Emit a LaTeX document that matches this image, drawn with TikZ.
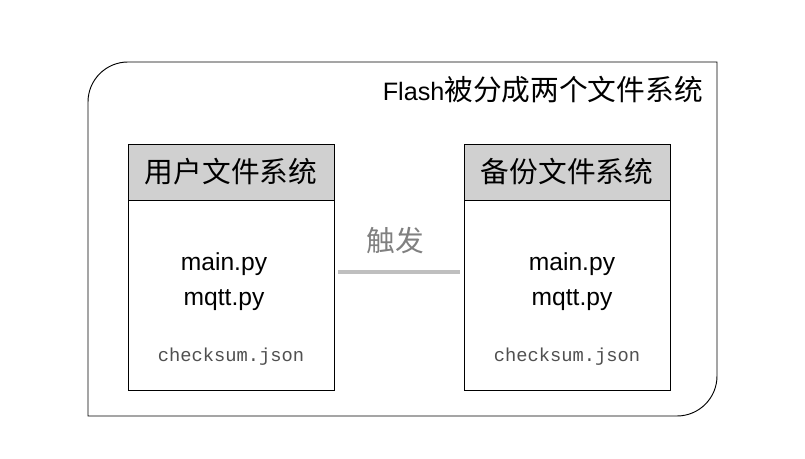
\documentclass[tikz,border=0pt]{standalone}
\usepackage{fontspec}
\setmainfont{Liberation Sans}
\setmonofont{Liberation Mono}
\newfontfamily\cjk{Noto Sans CJK SC}
\usetikzlibrary{positioning}
\definecolor{headgray}{HTML}{D0D0D0}
\definecolor{linegray}{HTML}{BFBFBF}
\definecolor{labelgray}{HTML}{808080}
\definecolor{sumgray}{HTML}{505050}

\begin{document}
\begin{tikzpicture}[x=0.03cm, y=0.03cm]
    \tikzset{
        fsbox/.style={draw, line width=0.8pt, minimum width=6.18cm, inner sep=0pt},
        fshead/.style={fsbox, fill=headgray, minimum height=1.68cm, font=\cjk\fontsize{24.5}{24.5}\selectfont},
        fsbody/.style={fsbox, fill=white, minimum height=5.7cm},
        pyfile/.style={inner sep=0pt, font=\fontsize{21}{21}\selectfont},
        sumfile/.style={inner sep=0pt, text=sumgray, font=\ttfamily\fontsize{16}{16}\selectfont},
    }
    \useasboundingbox (0,0) rectangle (805,459);

    % Outer flash frame with two rounded corners
    \draw[line width=0.8pt] (88,43) -- (88,357) arc[start angle=180, end angle=90, radius=1.2cm]
        -- (717,397) -- (717,83) arc[start angle=0, end angle=-90, radius=1.2cm] -- cycle;
    \node[anchor=east, inner sep=0pt] (title) at (703,369)
        {\fontsize{21.5}{21.5}\selectfont Flash{\cjk\fontsize{24.5}{24.5}\selectfont 被分成两个文件系统}};

    % User file system
    \node[fshead] (userhead) at (231,287) {用户文件系统};
    \node[fsbody, below=0pt of userhead] (userbody) {};
    \node[pyfile] (usermain) at (224,195) {main.py};
    \node[pyfile] (usermqtt) at (224,159) {mqtt.py};
    \node[sumfile] (usersum) at (231,102) {checksum.json};

    % Backup file system
    \node[fshead] (backuphead) at (567,287) {备份文件系统};
    \node[fsbody, below=0pt of backuphead] (backupbody) {};
    \node[pyfile] (backupmain) at (572,195) {main.py};
    \node[pyfile] (backupmqtt) at (572,159) {mqtt.py};
    \node[sumfile] (backupsum) at (567,102) {checksum.json};

    % Trigger line between the two systems
    \draw[linegray, line width=3.4pt, shorten <=0.12cm, shorten >=0.12cm]
        ([yshift=0.72cm]userbody.east) -- ([yshift=0.72cm]backupbody.west)
        node[midway, xshift=-0.1cm, yshift=0.93cm, text=labelgray, font=\cjk\fontsize{24.5}{24.5}\selectfont] (trigger) {触发};
\end{tikzpicture}
\end{document}
